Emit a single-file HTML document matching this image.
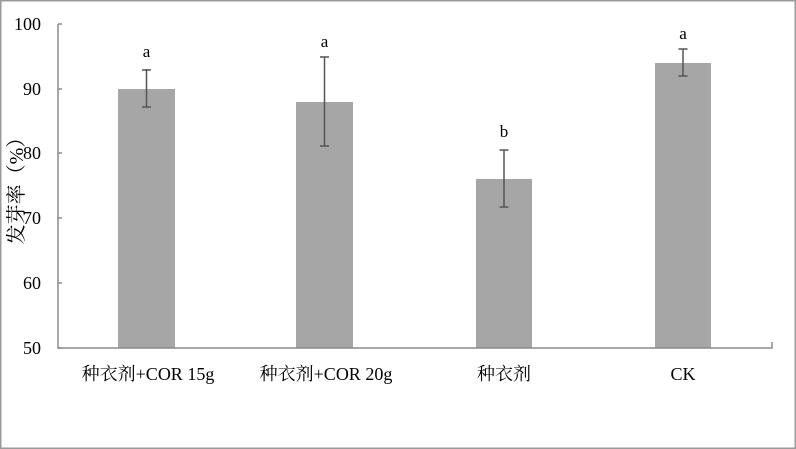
<!DOCTYPE html><html><head><meta charset="utf-8"><style>body{margin:0}svg{display:block}</style></head><body>
<svg width="796" height="449" xmlns="http://www.w3.org/2000/svg" font-family="Liberation Serif, Noto Serif CJK SC, serif">
<rect x="0.5" y="0.5" width="795" height="448" fill="#fff" stroke="#9a9a9a" stroke-width="2"/>
<g fill="#a6a6a6">
<rect x="118" y="89" width="57" height="259"/>
<rect x="296" y="102" width="57" height="246"/>
<rect x="476" y="179" width="56" height="169"/>
<rect x="655" y="63" width="56" height="285"/>
</g>
<g stroke="#8c8c8c" stroke-width="1.5" fill="none">
<path d="M58 24V348H772V342"/>
<path d="M58 24H62M58 89H62M58 153H62M58 218H62M58 283H62M58 348H62"/>
</g>
<g stroke="#555" stroke-width="1.5">
<path d="M146.5 69V107M142 70H151M142 107H151"/>
<path d="M324.5 57V146M320 57H329M320 146H329"/>
<path d="M504 150V207M499.5 150H508.5M499.5 207H508.5"/>
<path d="M683 49V76M678.5 49H687.5M678.5 76H687.5"/>
</g>
<g font-size="18" text-anchor="end" fill="#000">
<text x="41" y="30">100</text><text x="41" y="95">90</text><text x="41" y="159">80</text><text x="41" y="224">70</text><text x="41" y="289">60</text><text x="41" y="354">50</text>
</g>
<g font-size="17" text-anchor="middle">
<text x="146.5" y="57">a</text><text x="324.5" y="47">a</text><text x="504" y="137">b</text><text x="683" y="39">a</text>
</g>
<g font-size="18" text-anchor="middle">
<text x="148" y="380">种衣剂+COR 15g</text><text x="326" y="380">种衣剂+COR 20g</text><text x="504" y="380">种衣剂</text><text x="683" y="380">CK</text>
</g>
<text transform="translate(23 186) rotate(-90)" font-size="20" text-anchor="middle">发芽率（%）</text>
</svg></body></html>
